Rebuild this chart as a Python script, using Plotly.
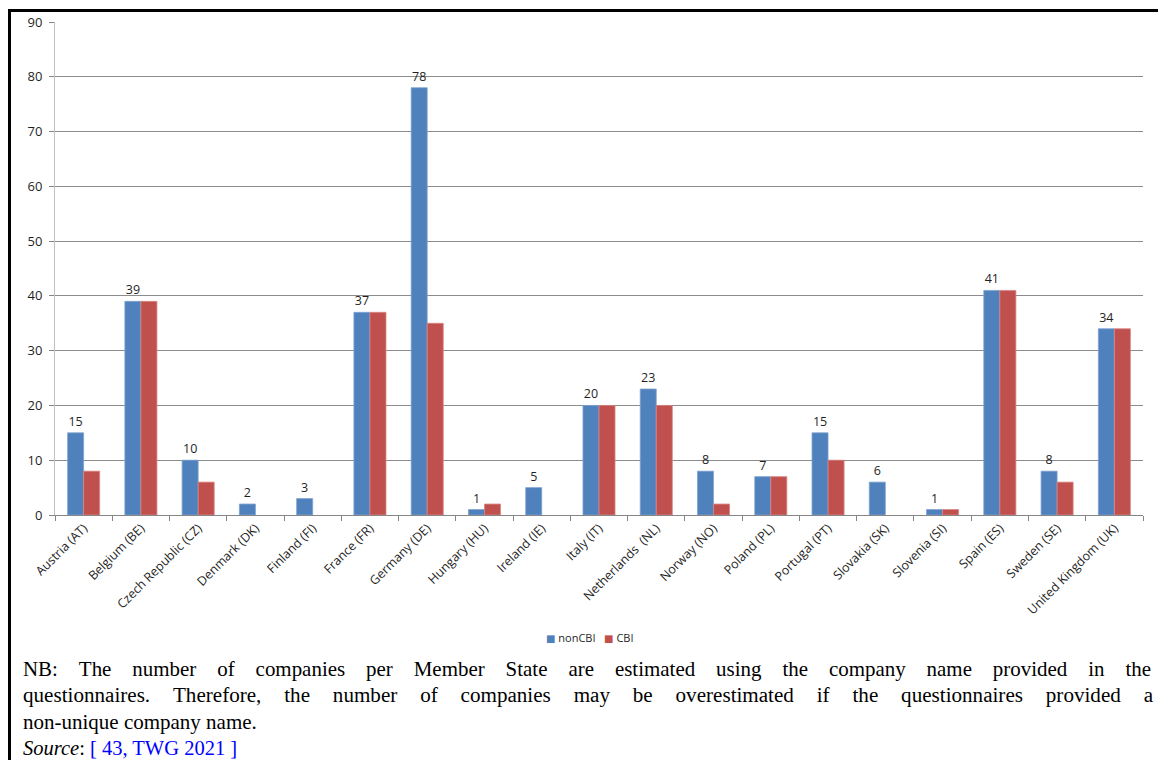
import plotly.graph_objects as go

countries = ["Austria (AT)", "Belgium (BE)", "Czech Republic (CZ)", "Denmark (DK)", "Finland (FI)",
             "France (FR)", "Germany (DE)", "Hungary (HU)", "Ireland (IE)", "Italy (IT)",
             "Netherlands  (NL)", "Norway (NO)", "Poland (PL)", "Portugal (PT)", "Slovakia (SK)",
             "Slovenia (SI)", "Spain (ES)", "Sweden (SE)", "United Kingdom (UK)"]
noncbi = [15, 39, 10, 2, 3, 37, 78, 1, 5, 20, 23, 8, 7, 15, 6, 1, 41, 8, 34]
cbi = [8, 39, 6, None, None, 37, 35, 2, None, 20, 20, 2, 7, 10, None, 1, 41, 6, 34]
y_ticks = [0, 10, 20, 30, 40, 50, 60, 70, 80, 90]
series_names = ["nonCBI", "CBI"]

W, H = 1158, 760
L, R, T, B = 55, 15, 22, 760 - 515
pw = W - L - R
ph = H - T - B

def px(x):
    return (x - L) / pw

def py(y):
    return (H - B - y) / ph

BLUE, RED = "#4F81BD", "#C0504D"
sans = "Open Sans, DejaVu Sans, sans-serif"

fig = go.Figure()
fig.add_trace(go.Bar(
    name=series_names[0], x=countries, y=noncbi, showlegend=False,
    marker=dict(color=BLUE, line=dict(color="#7FA3D0", width=0.8)),
    text=[str(v) for v in noncbi], textposition="outside", cliponaxis=False,
    textfont=dict(family=sans, size=12.5, color="#1F1F1F"),
))
fig.add_trace(go.Bar(
    name=series_names[1], x=countries, y=cbi, showlegend=False,
    marker=dict(color=RED, line=dict(color="#D88683", width=0.8)),
))

legend_txt = (f"<span style='color:{BLUE};font-size:10px'>■</span> {series_names[0]}"
              f"&nbsp;&nbsp;&nbsp;<span style='color:{RED};font-size:10px'>■</span> {series_names[1]}")

nb1 = "NB: The number of companies per Member State are estimated using the company name provided in the"
nb2 = "questionnaires. Therefore, the number of companies may be overestimated if the questionnaires provided a"
nb3 = "non-unique company name."
src = "<i>Source</i>: <span style='color:#0000FF'>[ 43, TWG 2021 ]</span>"

def justify(s, pad):
    words = s.split(" ")
    return (" " + pad).join(words)

serif = "Liberation Serif, Times New Roman, serif"
lines = [(justify(nb1, "&nbsp;&nbsp;&nbsp;"), 20.95, 669),
         (justify(nb2, "&nbsp;&nbsp;&nbsp;&#8202;"), 21.1, 695.5),
         (nb3, 21, 722), (src, 20.5, 747.5)]
annots = []
for txt, fs, yy in lines:
    annots.append(dict(
        x=px(21), y=py(yy), xref="paper", yref="paper",
        xanchor="left", yanchor="middle", showarrow=False, text=txt,
        font=dict(family=serif, size=fs, color="#000000"), align="left",
    ))
annots.append(dict(
    x=px(590), y=py(637), xref="paper", yref="paper", xanchor="center", yanchor="middle",
    showarrow=False, text=legend_txt, font=dict(family=sans, size=11, color="#1F1F1F"),
))

shapes = [
    dict(type="line", xref="paper", yref="paper", x0=px(9.5), x1=px(9.5), y0=py(9), y1=py(775),
         line=dict(color="#000000", width=3)),
    dict(type="line", xref="paper", yref="paper", x0=px(8), x1=px(1175), y0=py(10.5), y1=py(10.5),
         line=dict(color="#000000", width=3)),
]

fig.update_layout(
    width=W, height=H,
    margin=dict(l=L, r=R, t=T, b=B),
    paper_bgcolor="white", plot_bgcolor="white",
    barmode="group", bargap=0.44, bargroupgap=0, showlegend=False,
    font=dict(family=sans, size=11, color="#1F1F1F"),
    xaxis=dict(
        type="category", tickangle=-45, tickson="boundaries", ticks="outside", ticklen=5,
        tickcolor="#868686", showline=True, linecolor="#868686", linewidth=1,
        showgrid=False, tickfont=dict(size=12.5, color="#1F1F1F"),
    ),
    yaxis=dict(
        range=[0, 90], tickvals=y_ticks, ticks="outside", ticklen=5, tickcolor="#868686",
        showline=True, linecolor="#BFBFBF", linewidth=1, ticklabelstandoff=4,
        showgrid=True, gridcolor="#8C8C8C", gridwidth=1, zeroline=False,
        tickfont=dict(size=13, color="#1F1F1F"),
    ),
    annotations=annots, shapes=shapes,
)

fig.write_html("out.html", config={"displayModeBar": False},
               post_script="document.body.style.margin='0';document.body.style.overflow='hidden';")
